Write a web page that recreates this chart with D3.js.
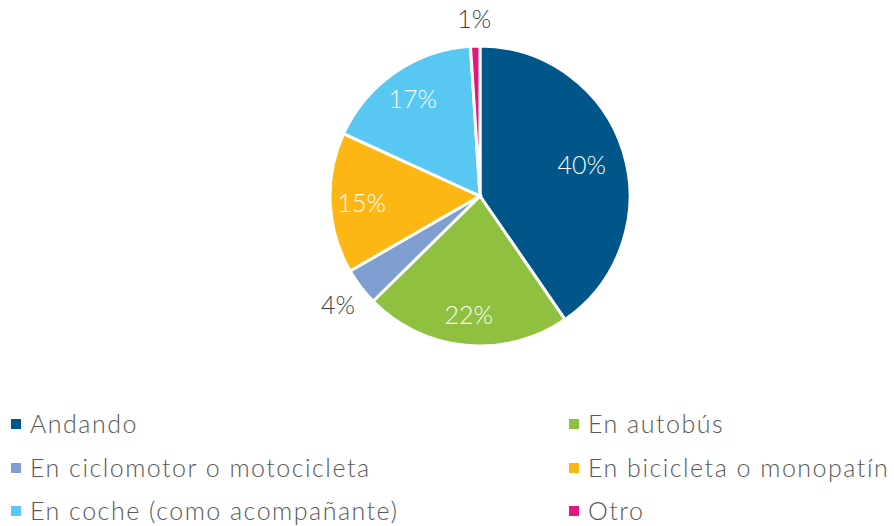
<!DOCTYPE html>
<html>
<head>
<meta charset="utf-8">
<script src="https://cdn.jsdelivr.net/npm/d3@7"></script>
<style>
  html, body { margin: 0; padding: 0; background: #ffffff; }
  svg { display: block; }
  text { font-family: "Lato", "Open Sans", sans-serif; }
</style>
</head>
<body>
<svg id="chart" width="894" height="526"></svg>
<script>
// Modo de desplazamiento (porcentaje de respuestas)
const categories = [
  "Andando",
  "En autobús",
  "En ciclomotor o motocicleta",
  "En bicicleta o monopatín",
  "En coche (como acompañante)",
  "Otro"
];
const values = [40, 22, 4, 15, 17, 1];
const colors = ["#005689", "#8dc13f", "#7f9fd1", "#fdb714", "#58c8f3", "#e2187f"];
// Rótulos dentro del sector (true) o fuera (false)
const labelInside = [true, true, false, true, true, false];

const svg = d3.select("#chart");
const cx = 480, cy = 196, R = 150;

const data = categories.map((c, i) => ({ name: c, value: values[i], color: colors[i], inside: labelInside[i] }));

const pie = d3.pie().value(d => d.value).sort(null);
const arcs = pie(data);
const arc = d3.arc().innerRadius(0).outerRadius(R);

// Radio del rótulo: dentro del sector (más centrado en los sectores grandes) o fuera
function labelRadius(d) {
  if (!d.data.inside) return R * 1.19;
  return d.data.value >= 30 ? R * 0.71 : R * 0.79;
}
function labelPos(d) {
  const r = labelRadius(d);
  return d3.arc().innerRadius(r).outerRadius(r).centroid(d);
}

const g = svg.append("g").attr("transform", `translate(${cx},${cy})`);

g.selectAll("path.slice")
  .data(arcs)
  .join("path")
  .attr("class", "slice")
  .attr("d", arc)
  .attr("fill", d => d.data.color)
  .attr("stroke", "#ffffff")
  .attr("stroke-width", 3)
  .attr("stroke-linejoin", "miter");

g.selectAll("text.lbl")
  .data(arcs)
  .join("text")
  .attr("class", "lbl")
  .attr("transform", d => `translate(${labelPos(d)})`)
  .attr("text-anchor", "middle")
  .attr("dominant-baseline", "central")
  .attr("font-size", 25)
  .attr("font-weight", 300)
  .attr("fill", d => d.data.inside ? "#ffffff" : "#404040")
  .text(d => d.data.value + "%");

// Leyenda en dos columnas
const colX = [11, 569];
const rowY = [423, 467, 510];
const leg = svg.append("g");
const items = leg.selectAll("g.item")
  .data(data)
  .join("g")
  .attr("class", "item")
  .attr("transform", (d, i) => `translate(${colX[i % 2]},${rowY[Math.floor(i / 2)]})`);

items.append("rect")
  .attr("x", 0).attr("y", -4)
  .attr("width", 10).attr("height", 10)
  .attr("fill", d => d.color);

items.append("text")
  .attr("x", 19)
  .attr("y", 0)
  .attr("dominant-baseline", "central")
  .attr("font-size", 25)
  .attr("font-weight", 300)
  .attr("letter-spacing", 1.5)
  .attr("fill", "#595959")
  .text(d => d.name);
</script>
</body>
</html>
